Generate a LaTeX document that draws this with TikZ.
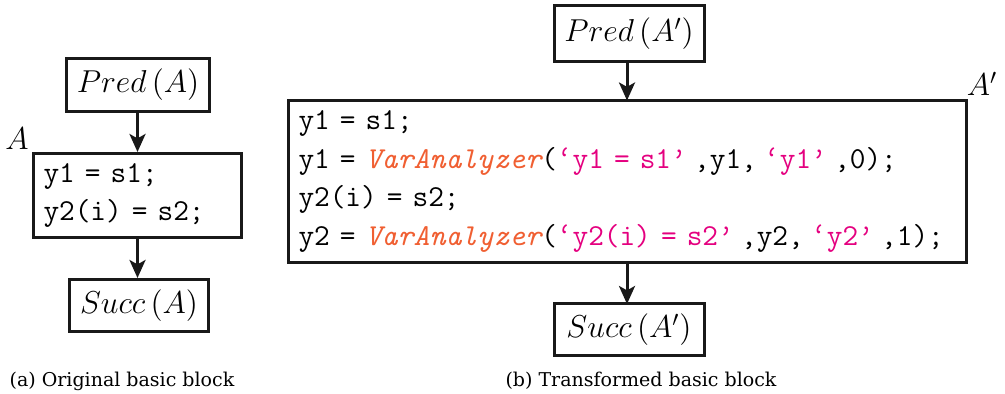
\documentclass[tikz,border=0pt]{standalone}
\usepackage{graphicx}
\usepackage{fontspec}
\usetikzlibrary{arrows.meta}
\newfontfamily\capfont{DejaVu Serif}
\definecolor{fncol}{RGB}{240,95,50}
\definecolor{strcol}{RGB}{228,0,127}
\newcommand\fnname[1]{{\color{fncol}\itshape #1}}
\newcommand\strlit[1]{{\color{strcol}#1\kern3.7pt}}
\newcommand\strlitb[1]{{\color{strcol}\kern3.7pt#1\kern3.7pt}}
\newcommand\mlab[1]{\scalebox{1.1}{$#1$}}
\tikzset{
  blk/.style={draw=black!90, line width=1.5pt, inner sep=0pt, font=\fontsize{14.4}{19.2}\selectfont},
  codebox/.style={blk, font=\fontsize{15.2}{19.2}\selectfont\ttfamily, align=left, inner xsep=5pt},
  arr/.style={draw=black!90, line width=1.5pt, -{Stealth[length=9pt,width=8pt,inset=2.2pt]}},
  lbl/.style={font=\fontsize{14.4}{18}\selectfont},
  captext/.style={font=\capfont\fontsize{9.5}{11}\selectfont}
}
\begin{document}
\begin{tikzpicture}[x=0.5pt,y=-0.5pt]
\useasboundingbox (0,0) rectangle (1005,394);
% left
\node[blk, minimum width=71.5pt, minimum height=26.5pt] (pa) at (138,85) {\mlab{Pred\,(A)}};
\node[codebox, minimum height=42pt, text width=94pt] (ba) at (137.5,195.5) {y1 = s1;\\y2(i) = s2;};
\node[blk, minimum width=69.5pt, minimum height=26pt] (sa) at (139,305.5) {\mlab{Succ\,(A)}};
\node[lbl] (la) at (17,139) {\mlab{A}};
\draw[arr] (pa.south -| ba.north) -- (ba.north);
\draw[arr] (ba.south) -- (ba.south |- sa.north);
% right
\node[blk, minimum width=75pt, minimum height=28pt] (pb) at (629,34) {\mlab{Pred\,(A')}};
\node[codebox, minimum height=81pt, text width=329pt] (bb) at (627.5,181.5) {y1 = s1;\\
y1 = \fnname{VarAnalyzer}(\strlit{‘y1 = s1’},y1,\strlitb{‘y1’},0);\\
y2(i) = s2;\\
y2 = \fnname{VarAnalyzer}(\strlit{‘y2(i) = s2’},y2,\strlitb{‘y2’},1);};
\node[blk, minimum width=75pt, minimum height=26pt] (sb) at (629,330) {\mlab{Succ\,(A')}};
\node[lbl] (lb) at (982,84) {\mlab{A'}};
\coordinate (ta) at (627,62);
\coordinate (tb) at (627,100.5);
\coordinate (tc) at (627,262.5);
\coordinate (td) at (627,304);
\draw[arr] (ta) -- (tb);
\draw[arr] (tc) -- (td);
% captions
\node[captext] (ca) at (122,381) {(a) Original basic block};
\node[captext] (cb) at (641,381) {(b) Transformed basic block};
\end{tikzpicture}
\end{document}
